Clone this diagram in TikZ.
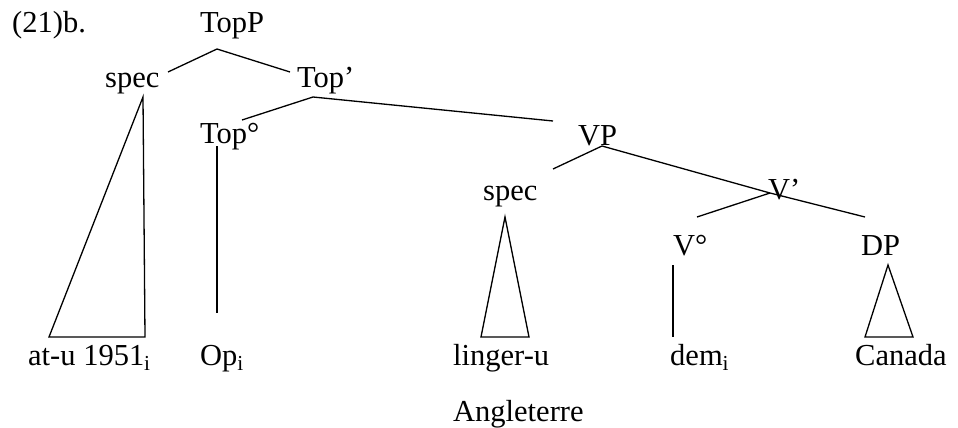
\documentclass[tikz,border=0pt]{standalone}
\usepackage{fontspec}
\setmainfont{Liberation Serif}
\begin{document}
\begin{tikzpicture}[x=1pt,y=-1pt,
  lbl/.style={anchor=base west, inner sep=0pt, font=\fontsize{30.5}{36}\selectfont},
  br/.style={line width=1.3pt, line join=miter}]
\useasboundingbox (0,0) rectangle (958,428);
% labels
\node[lbl] (ex) at (12,33) {(21)b.};
\node[lbl] (topP) at (200,33) {TopP};
\node[lbl] (spec1) at (105,87) {spec};
\node[lbl] (topbar) at (297,88) {Top’};
\node[lbl] (topo) at (200,143) {Top°};
\node[lbl] (vp) at (578,145) {VP};
\node[lbl] (spec2) at (483,200) {spec};
\node[lbl] (vbar) at (768,199) {V’};
\node[lbl] (vo) at (673,255) {V°};
\node[lbl] (dp) at (861,255) {DP};
\node[lbl] (atu) at (28,365) {at-u 1951\textsubscript{i}};
\node[lbl] (op) at (200,365) {Op\textsubscript{i}};
\node[lbl] (linger) at (453,365) {linger-u};
\node[lbl] (angl) at (453,421) {Angleterre};
\node[lbl] (dem) at (670,365) {dem\textsubscript{i}};
\node[lbl] (canada) at (855,365) {Canada};
% branch points
\coordinate (topPb) at (217,49);
\coordinate (spec1t) at (168,72);
\coordinate (topbart) at (290,72);
\coordinate (topbarb) at (313,97);
\coordinate (topot) at (242,120);
\coordinate (vpt) at (553,121);
\coordinate (vpb) at (602,146);
\coordinate (spec2t) at (553,169);
\coordinate (vbarb) at (770,193);
\coordinate (vot) at (697,217);
\coordinate (dpt) at (865,217);
% branches
\draw[br] (spec1t) -- (topPb) -- (topbart);
\draw[br] (topot) -- (topbarb) -- (vpt);
\draw[br] (spec2t) -- (vpb) -- (vbarb) -- (dpt);
\draw[br] (vot) -- (vbarb);
% triangles and unary lines
\draw[br] (143,97) -- (49,337) -- (145,337) -- cycle;
\draw[br] (217,146) -- (217,313);
\draw[br] (505,217) -- (481,337) -- (529,337) -- cycle;
\draw[br] (673,265) -- (673,337);
\draw[br] (888,265) -- (865,337) -- (913,337) -- cycle;
\end{tikzpicture}
\end{document}
